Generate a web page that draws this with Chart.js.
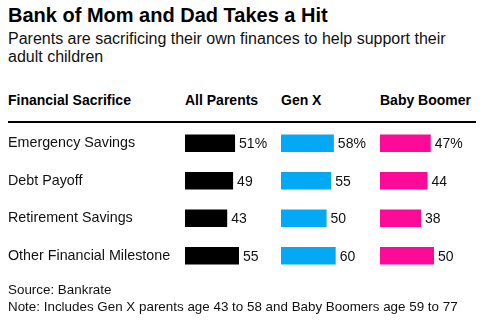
<!DOCTYPE html>
<html>
<head>
<meta charset="utf-8">
<script src="https://cdn.jsdelivr.net/npm/chart.js@4.4.0/dist/chart.umd.min.js"></script>
<style>
  body { margin: 0; background: #fff; font-family: "Liberation Sans", Arial, sans-serif; color: #000; }
  #wrap { position: relative; width: 483px; height: 323px; overflow: hidden; }
  .abs { position: absolute; white-space: nowrap; }
  #title { left: 8px; top: 4px; font-size: 20px; font-weight: bold; }
  #sub { left: 8px; top: 30px; font-size: 16px; line-height: 18px; white-space: normal; width: 450px; color: #111; }
  .hd { top: 92px; font-size: 14px; font-weight: bold; }
  #rule { left: 8px; top: 121px; width: 468px; height: 2px; background: #000; }
  #chartBox { position: absolute; left: 0; top: 116px; width: 483px; height: 167px; }
  .foot { left: 8px; font-size: 13.4px; color: #111; }
</style>
</head>
<body>
<div id="wrap">
  <div id="title" class="abs">Bank of Mom and Dad Takes a Hit</div>
  <div id="sub" class="abs">Parents are sacrificing their own finances to help support their adult children</div>
  <div class="abs hd" style="left:8px">Financial Sacrifice</div>
  <div class="abs hd" style="left:185px">All Parents</div>
  <div class="abs hd" style="left:281px">Gen X</div>
  <div class="abs hd" style="left:380px">Baby Boomer</div>
  <div id="chartBox"><canvas id="tabla"></canvas></div>
  <div id="rule" class="abs"></div>
  <div class="abs foot" style="top:282px">Source: Bankrate</div>
  <div class="abs foot" style="top:299px">Note: Includes Gen X parents age 43 to 58 and Baby Boomers age 59 to 77</div>
</div>
<script>
const sacrificios = ['Emergency Savings', 'Debt Payoff', 'Retirement Savings', 'Other Financial Milestone'];
const todosPadres = [51, 49, 43, 55];
const genX = [58, 55, 50, 60];
const babyBoomer = [47, 44, 38, 50];

// texto del valor al final de cada barra, con % en la primera fila
const etiquetas = {
  id: 'etiquetas',
  afterDatasetsDraw(chart) {
    const ctx = chart.ctx;
    ctx.save();
    ctx.font = '14px "Liberation Sans", Arial, sans-serif';
    ctx.fillStyle = '#111';
    ctx.textBaseline = 'middle';
    ctx.textAlign = 'left';
    chart.data.datasets.forEach((ds, i) => {
      chart.getDatasetMeta(i).data.forEach((bar, j) => {
        const txt = ds.data[j] + (j === 0 ? '%' : '');
        ctx.fillText(txt, bar.x + 4, bar.y + 1);
      });
    });
    ctx.restore();
  }
};

const ejeOculto = (max, peso) => ({
  type: 'linear', position: 'bottom', stack: 'cols', stackWeight: peso,
  min: 0, max: max, display: false
});

new Chart(document.getElementById('tabla'), {
  type: 'bar',
  data: {
    labels: sacrificios,
    datasets: [
      { label: 'All Parents', data: todosPadres, backgroundColor: '#000000', xAxisID: 'x1', grouped: false },
      { label: 'Gen X', data: genX, backgroundColor: '#03a9f4', xAxisID: 'x2', grouped: false },
      { label: 'Baby Boomer', data: babyBoomer, backgroundColor: '#fc0a98', xAxisID: 'x3', grouped: false }
    ]
  },
  options: {
    indexAxis: 'y',
    responsive: true,
    maintainAspectRatio: false,
    animation: false,
    layout: { padding: { left: 8, right: 3, top: 0, bottom: 0 } },
    datasets: { bar: { barPercentage: 0.47, categoryPercentage: 1 } },
    plugins: { legend: { display: false }, tooltip: { enabled: false } },
    scales: {
      y: {
        grid: { display: false },
        border: { display: false },
        ticks: { crossAlign: 'far', color: '#111', padding: 0, font: { family: '"Liberation Sans", Arial, sans-serif', size: 14.3 } },
        afterFit(scale) { scale.width = 177; }
      },
      x1: ejeOculto(97.8, 96),
      x2: ejeOculto(108.6, 99),
      x3: ejeOculto(92.6, 100)
    }
  },
  plugins: [etiquetas]
});
</script>
</body>
</html>
